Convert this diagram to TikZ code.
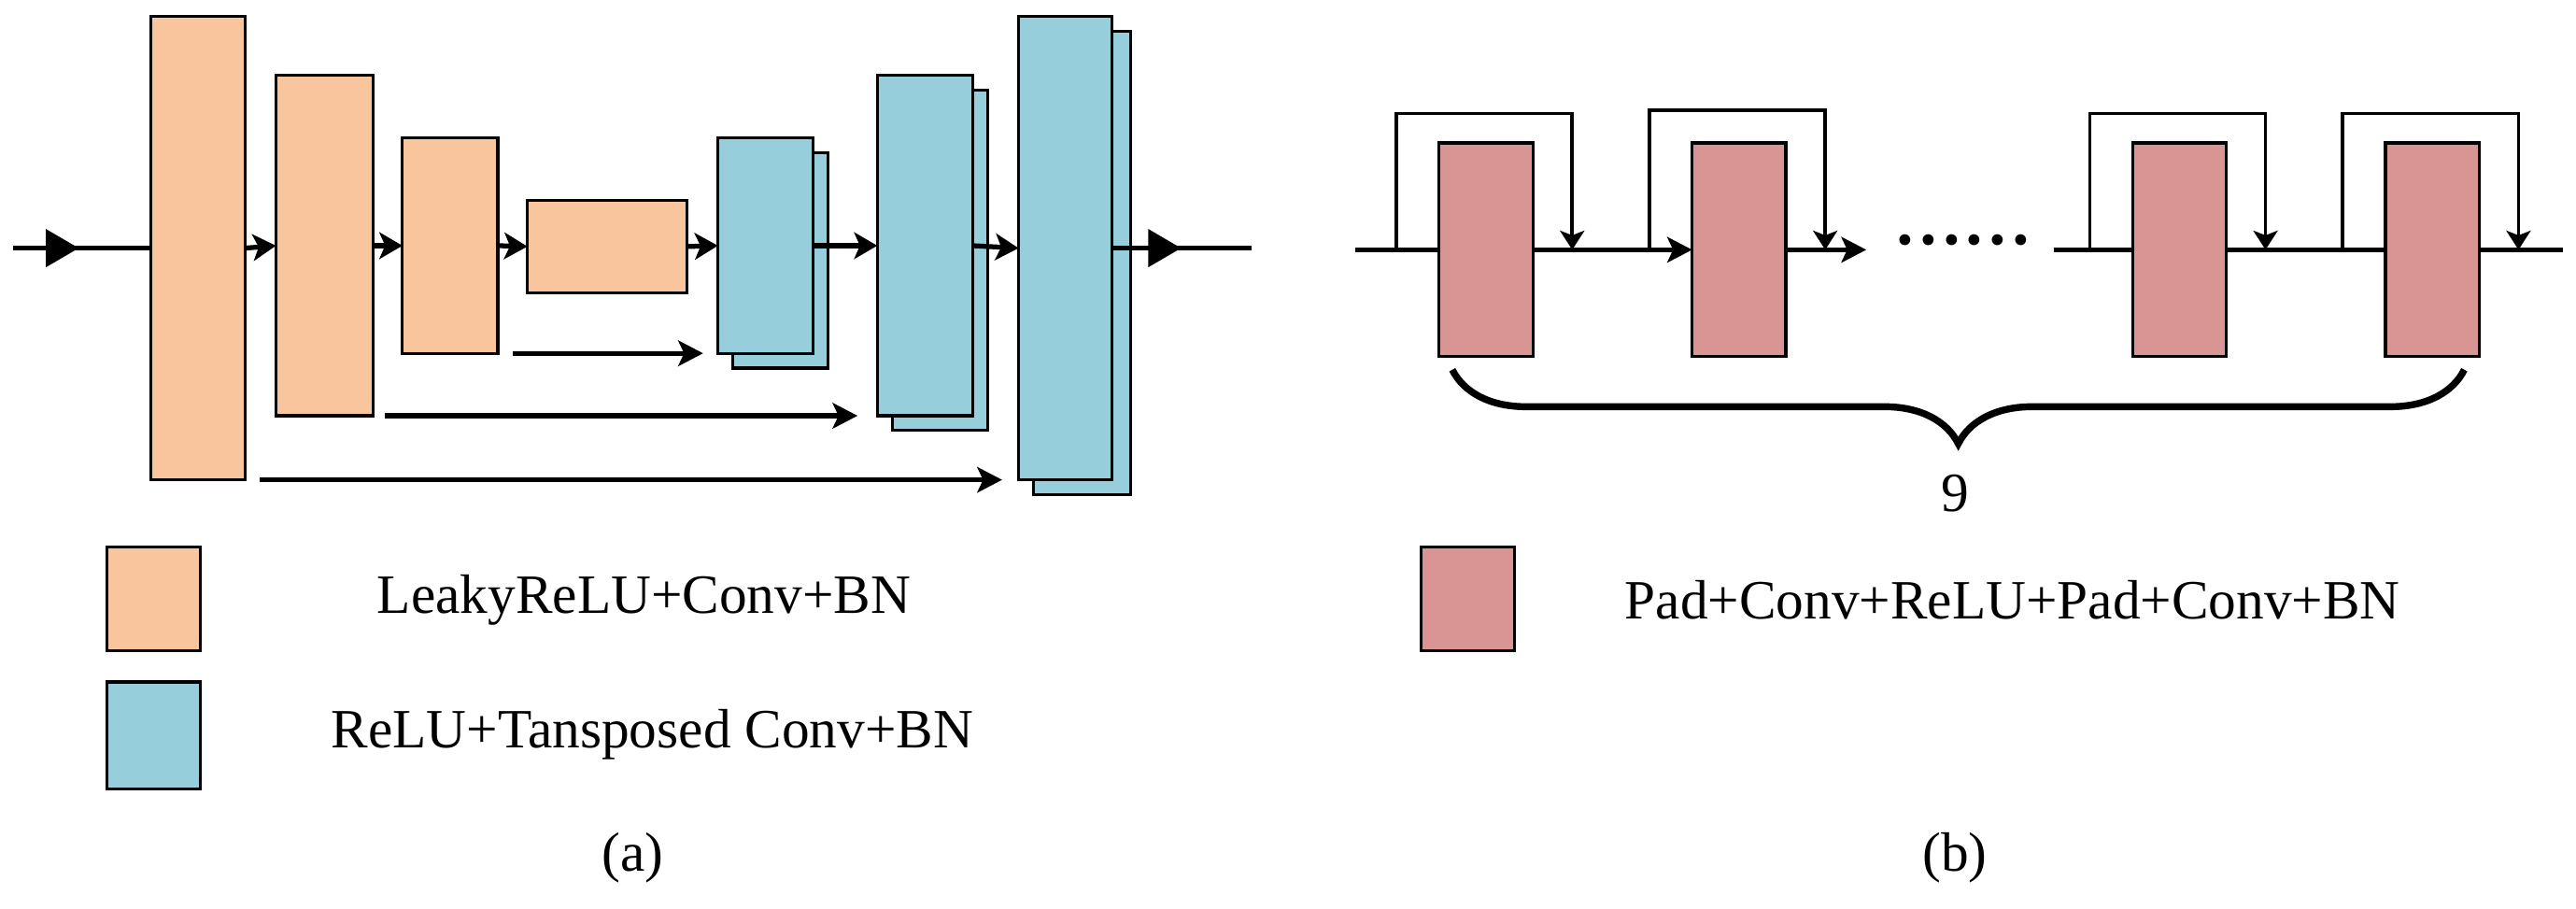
\documentclass[tikz,border=0pt]{standalone}
\usepackage{fontspec}
\setmainfont{Liberation Serif}
\usetikzlibrary{arrows.meta,decorations.pathreplacing}
\definecolor{org}{HTML}{F8C59C}
\definecolor{blu}{HTML}{96CEDC}
\definecolor{pnk}{HTML}{D89593}
\newcommand\bx[6]{\node[#2,minimum width={(#5-#3)*0.1mm},minimum height={(#6-#4)*0.1mm}] (#1) at ({(#3+#5)/2},{(#4+#6)/2}) {};}
\tikzset{
 box/.style={draw,line width=0.5pt,inner sep=0pt,outer sep=0pt},
 ob/.style={box,fill=org}, bb/.style={box,fill=blu}, pb/.style={box,fill=pnk},
 ln/.style={line width=0.85pt},
 arr/.style={ln,-{Stealth[length=4pt,width=4.6pt,inset=1pt]}},
 sarr/.style={ln,-{Stealth[length=4.3pt,width=4.4pt,inset=1pt]}},
 big/.style={ln,-{Triangle[length=5.7pt,width=6.4pt]}},
 lp/.style={line width=0.6pt},
 lpa/.style={lp,-{Stealth[length=3.3pt,width=4.2pt,inset=0.8pt]}},
 txt/.style={font=\fontsize{9.6pt}{11pt}\selectfont,inner sep=0pt}
}
\begin{document}
\begin{tikzpicture}[x=0.1mm,y=-0.1mm]
\useasboundingbox (0,0) rectangle (1568,553);
% part a
\bx{b5b}{bb}{446}{93}{504}{224}
\bx{b6b}{bb}{543}{55}{601}{262}
\bx{b7b}{bb}{629}{19}{688}{301}
\bx{b1}{ob}{92}{10}{149}{292}
\bx{b2}{ob}{168}{46}{227}{253}
\bx{b3}{ob}{245}{84}{303}{215}
\bx{b4}{ob}{321}{122}{418}{178}
\bx{b5}{bb}{437}{84}{495}{215}
\bx{b6}{bb}{534}{46}{592}{253}
\bx{b7}{bb}{620}{10}{677}{292}
\coordinate (in) at (8,151);
\coordinate (out) at (762,151);
\draw[big] (in) -- (48,151);
\draw[ln] (45,151) -- (b1.west);
\draw[arr] (b1.east) -- (b2.west);
\draw[arr] (b2.east) -- (b3.west);
\draw[arr] (b3.east) -- (b4.west);
\draw[arr] (b4.east) -- (b5.west);
\draw[arr] (b5.east) -- (b6.west);
\draw[arr] (b6.east) -- (b7.west);
\draw[big] (b7.east) -- (719,151);
\draw[ln] (715,151) -- (out);
\draw[sarr] ([shift={(9,0)}]b3.south east) -- ([shift={(-9,0)}]b5.south west);
\draw[sarr] ([shift={(7,0)}]b2.south east) -- ([shift={(-12,0)}]b6.south west);
\draw[sarr] ([shift={(9,0)}]b1.south east) -- ([shift={(-10,0)}]b7.south west);
\bx{la}{ob}{65}{333}{122}{396}
\bx{lb}{bb}{65}{415}{122}{480}
\node[txt] at (392,365) {LeakyReLU+Conv+BN};
\node[txt] at (397,447) {ReLU+Tansposed Conv+BN};
\node[txt] at (385,522) {(a)};
% part b
\bx{p1}{pb}{876}{87}{933}{217}
\bx{p2}{pb}{1030}{87}{1087}{217}
\bx{p3}{pb}{1298}{87}{1355}{217}
\bx{p4}{pb}{1452}{87}{1509}{217}
\coordinate (bin) at (825,152);
\coordinate (bmid) at (1136,152);
\coordinate (bres) at (1250,152);
\coordinate (bout) at (1560,152);
\draw[ln] (bin) -- (p1.west);
\draw[sarr] (p1.east) -- (p2.west);
\draw[sarr] (p2.east) -- (bmid);
\draw[ln] (bres) -- (p3.west);
\draw[ln] (p3.east) -- (p4.west);
\draw[ln] (p4.east) -- (bout);
\node[txt,font=\fontsize{16pt}{16pt}\selectfont] at (1195,146) {......};
\foreach \p/\t in {p1/69,p2/67,p3/69,p4/69}{
 \draw[lpa] ([shift={(-26,0)}]\p.west) |- ([shift={(24,\t-152)}]\p.east) -- ([shift={(24,0)}]\p.east);
}
\draw[line width=1.2pt,decorate,decoration={brace,amplitude=4.5mm,mirror,aspect=0.5}] (884,225) -- (1500,225);
\node[txt] at (1190,300) {9};
\bx{lc}{pb}{865}{333}{922}{396}
\node[txt] at (1225,365) {Pad+Conv+ReLU+Pad+Conv+BN};
\node[txt] at (1190,522) {(b)};
\end{tikzpicture}
\end{document}
